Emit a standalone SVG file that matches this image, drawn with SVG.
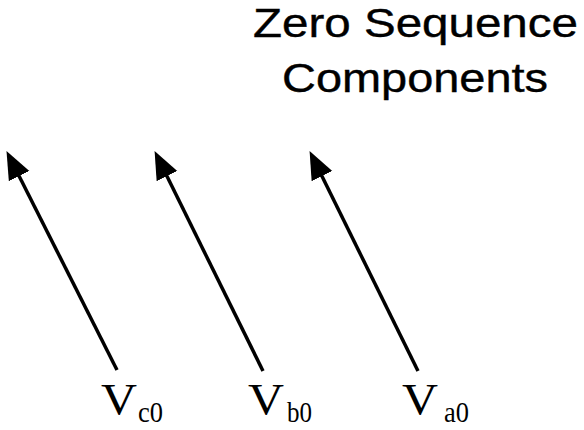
<svg xmlns="http://www.w3.org/2000/svg" width="584" height="430" viewBox="0 0 584 430">
<style>
.title{font-family:"Liberation Sans",Arial,sans-serif;font-size:41px;fill:#000;stroke:#000;stroke-width:0.4}
.v{font-family:"Liberation Serif","Times New Roman",serif;font-size:44px;fill:#000}
.sub{font-family:"Liberation Serif","Times New Roman",serif;font-size:29px;fill:#000}
.arrow{stroke:#000;stroke-width:3.5;fill:none;marker-end:url(#head)}
</style>
<defs>
<marker id="head" markerUnits="userSpaceOnUse" markerWidth="30" markerHeight="24" refX="18" refY="11.5" orient="auto" viewBox="0 0 30 24">
<path d="M0,0 L28,11.5 L0,23 Z" fill="#000"/>
</marker>
</defs>
<rect width="584" height="430" fill="#fff"/>
<g id="title">
<text class="title" x="253" y="37" textLength="325" lengthAdjust="spacingAndGlyphs">Zero Sequence</text>
<text class="title" x="282" y="92" textLength="266" lengthAdjust="spacingAndGlyphs">Components</text>
</g>
<g id="connectors">
<line class="arrow" x1="117" y1="370" x2="11" y2="160"/>
<line class="arrow" x1="263" y1="371" x2="159" y2="160"/>
<line class="arrow" x1="418" y1="371" x2="314" y2="160"/>
</g>
<g id="Vc0">
<text class="v" x="101" y="414" textLength="36" lengthAdjust="spacingAndGlyphs">V</text>
<text class="sub" x="138" y="422" textLength="25" lengthAdjust="spacingAndGlyphs">c0</text>
</g>
<g id="Vb0">
<text class="v" x="248" y="414" textLength="36" lengthAdjust="spacingAndGlyphs">V</text>
<text class="sub" x="287" y="422" textLength="25" lengthAdjust="spacingAndGlyphs">b0</text>
</g>
<g id="Va0">
<text class="v" x="402" y="414" textLength="36" lengthAdjust="spacingAndGlyphs">V</text>
<text class="sub" x="444" y="422" textLength="25" lengthAdjust="spacingAndGlyphs">a0</text>
</g>
</svg>
